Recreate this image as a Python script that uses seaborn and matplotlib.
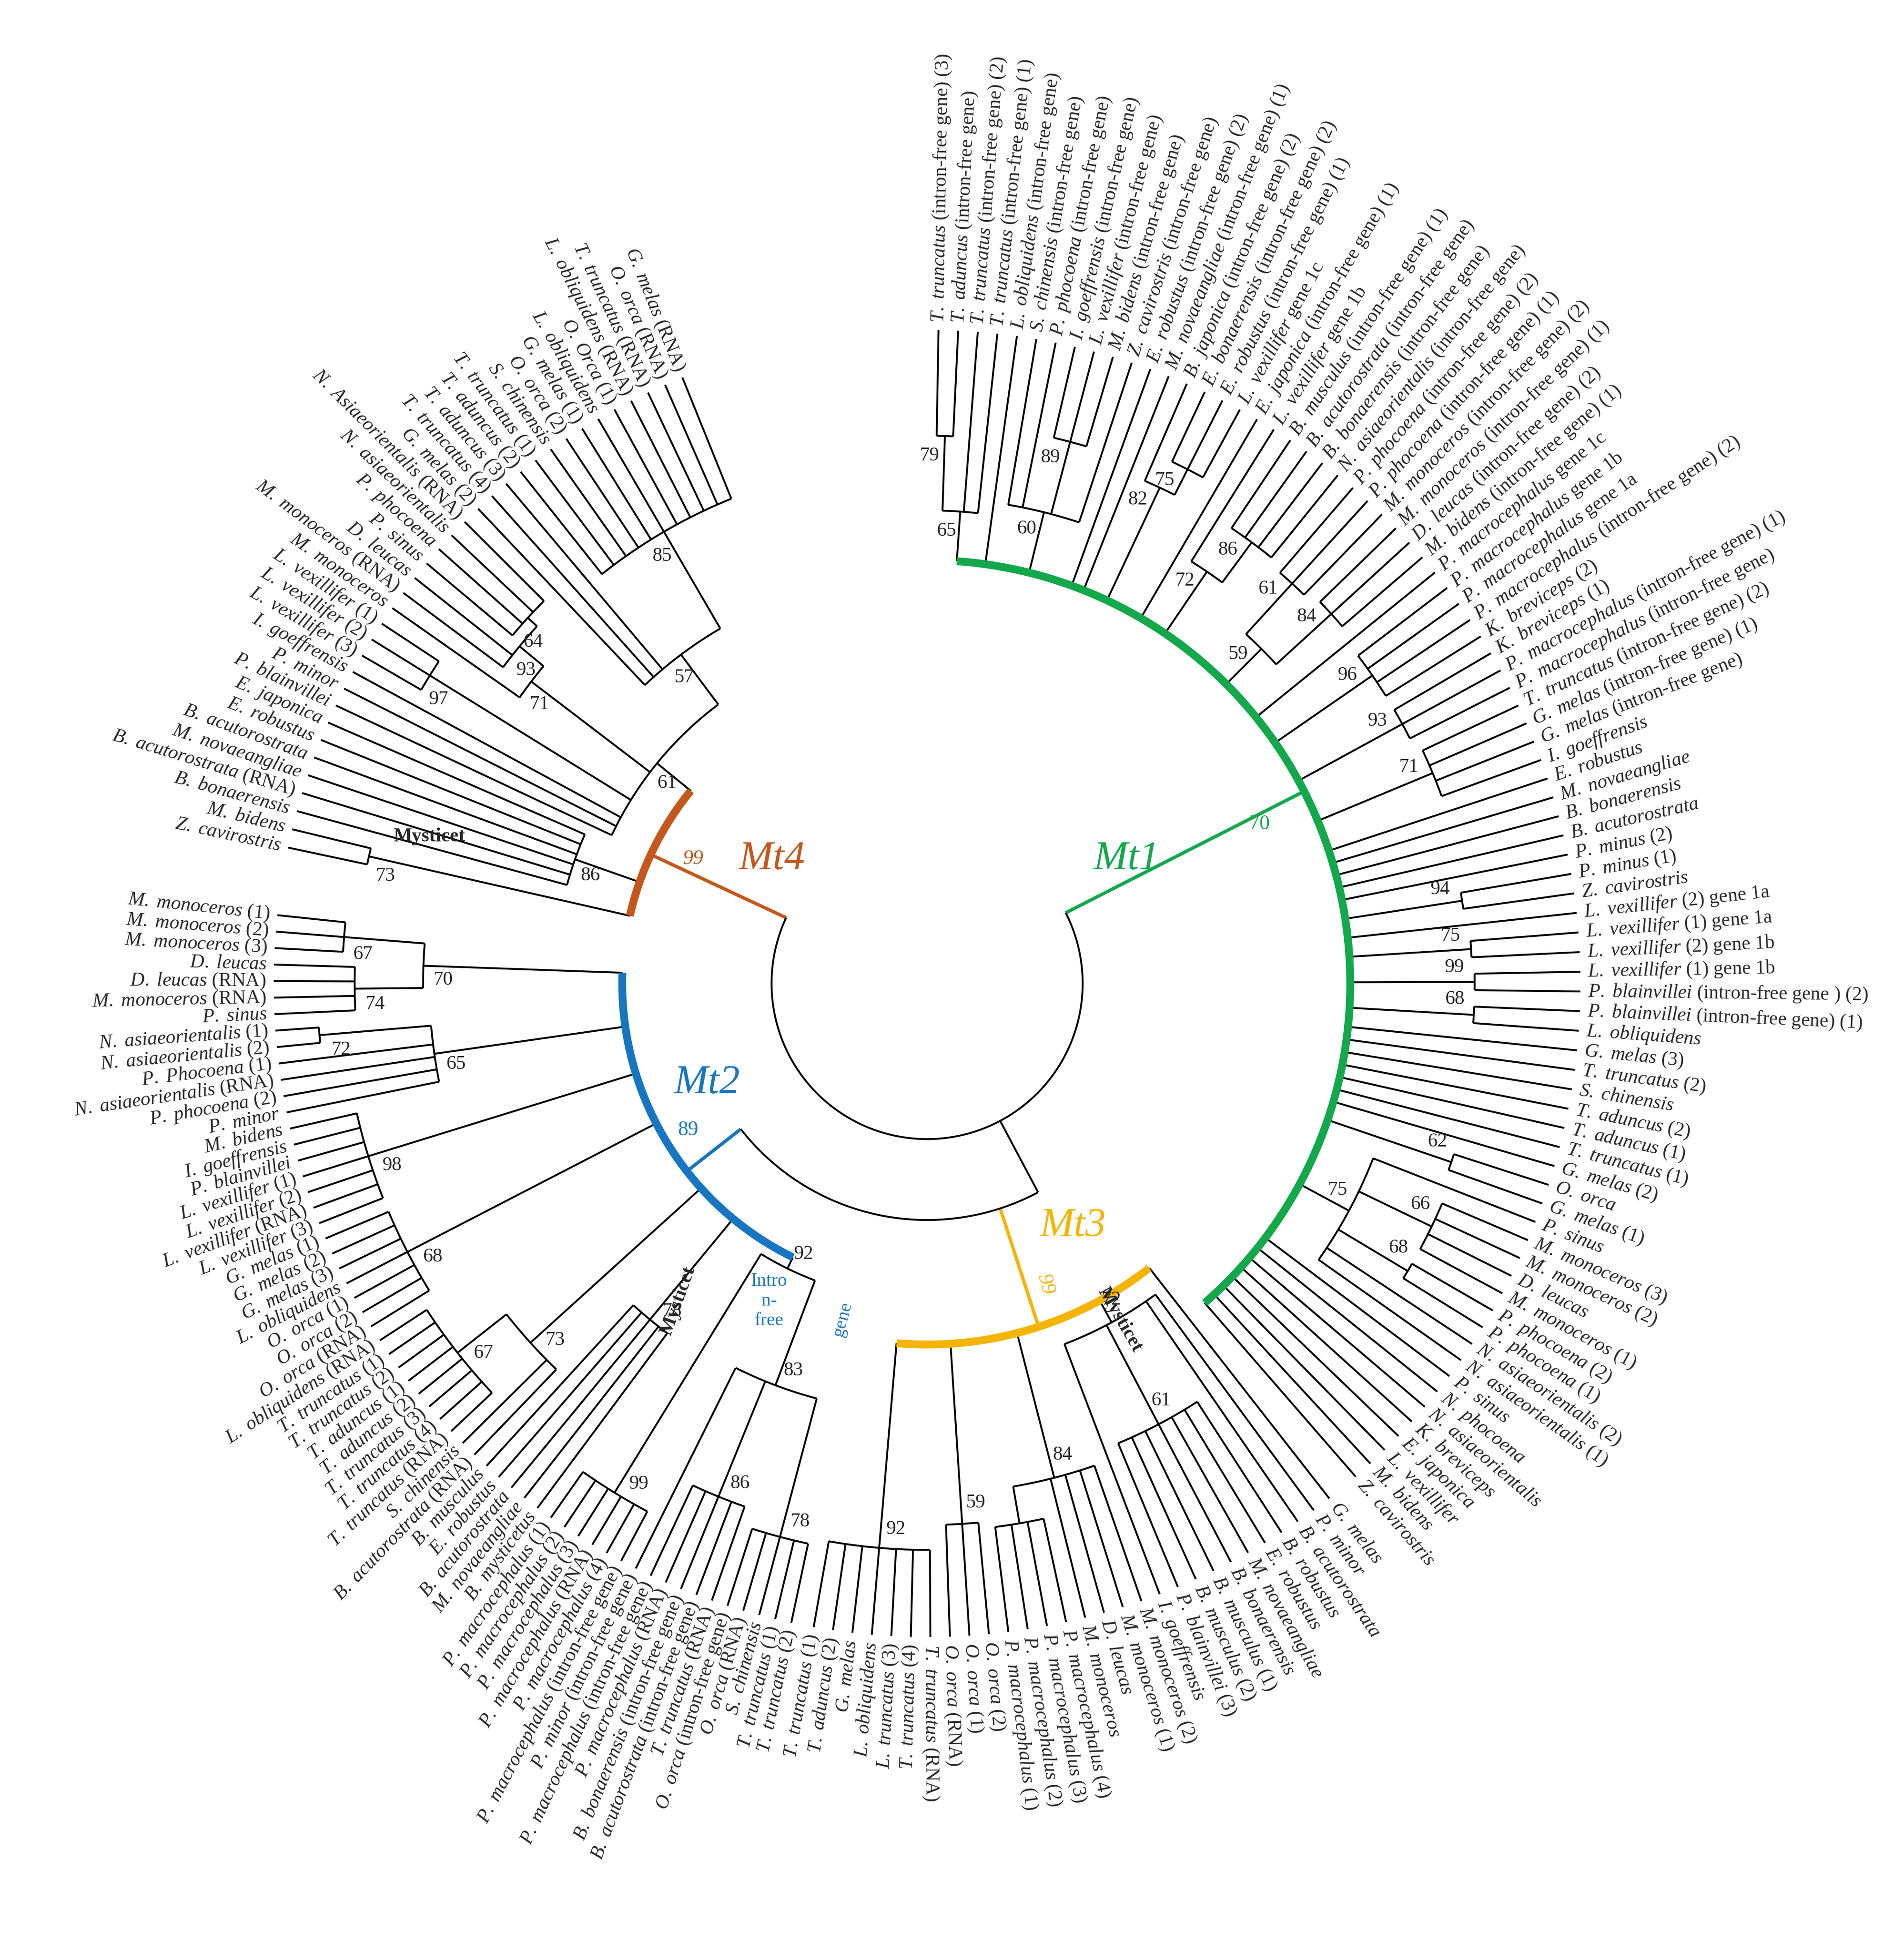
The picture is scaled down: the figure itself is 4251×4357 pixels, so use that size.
import numpy as np
import matplotlib
matplotlib.use("Agg")
import matplotlib.pyplot as plt
import seaborn as sns

sns.set_theme(style="white")
plt.rcParams['font.family'] = ['Liberation Serif', 'DejaVu Serif']
plt.rcParams['mathtext.fontset'] = 'custom'
plt.rcParams['mathtext.it'] = 'Liberation Serif:italic'
plt.rcParams['mathtext.rm'] = 'Liberation Serif'
plt.rcParams['mathtext.bf'] = 'Liberation Serif:bold'

# ---------------- data ----------------
mt1_leaves = [
 "T. truncatus (intron-free gene) (3)", "T. aduncus (intron-free gene)", "T. truncatus (intron-free gene) (2)",
 "T. truncatus (intron-free gene) (1)", "L. obliquidens (intron-free gene)", "S. chinensis (intron-free gene)",
 "P. phocoena (intron-free gene)", "I. goeffrensis (intron-free gene)", "L. vexillifer (intron-free gene)",
 "M. bidens (intron-free gene)", "Z. cavirostris (intron-free gene)", "E. robustus (intron-free gene) (2)",
 "M. novaeangliae (intron-free gene) (1)", "B. japonica (intron-free gene) (2)", "E. bonaerensis (intron-free gene) (2)",
 "E. robustus (intron-free gene) (1)", "L. vexillifer gene 1c", "E. japonica (intron-free gene) (1)",
 "L. vexillifer gene 1b", "B. musculus (intron-free gene) (1)", "B. acutorostrata (intron-free gene)",
 "B. bonaerensis (intron-free gene)", "N. asiaeorientalis (intron-free gene)", "P. phocoena (intron-free gene) (2)",
 "P. phocoena (intron-free gene) (1)", "M. monoceros (intron-free gene) (2)", "M. monoceros (intron-free gene) (1)",
 "D. leucas (intron-free gene) (2)", "M. bidens (intron-free gene) (1)", "P. macrocephalus gene 1c",
 "P. macrocephalus gene 1b", "P. macrocephalus gene 1a", "P. macrocephalus (intron-free gene) (2)",
 "K. breviceps (2)", "K. breviceps (1)", "P. macrocephalus (intron-free gene) (1)",
 "P. macrocephalus (intron-free gene)", "T. truncatus (intron-free gene) (2)", "G. melas (intron-free gene) (1)",
 "G. melas (intron-free gene)", "I. goeffrensis", "E. robustus", "M. novaeangliae", "B. bonaerensis",
 "B. acutorostrata", "P. minus (2)", "P. minus (1)", "Z. cavirostris", "L. vexillifer (2) gene 1a",
 "L. vexillifer (1) gene 1a", "L. vexillifer (2) gene 1b", "L. vexillifer (1) gene 1b",
 "P. blainvillei (intron-free gene ) (2)", "P. blainvillei (intron-free gene) (1)", "L. obliquidens",
 "G. melas (3)", "T. truncatus (2)", "S. chinensis", "T. aduncus (2)", "T. aduncus (1)", "T. truncatus (1)",
 "G. melas (2)", "O. orca", "G. melas (1)", "P. sinus", "M. monoceros (3)", "M. monoceros (2)", "D. leucas",
 "M. monoceros (1)", "P. phocoena (2)", "P. phocoena (1)", "N. asiaeorientalis (2)", "N. asiaeorientalis (1)",
 "P. sinus", "N. phocoena", "N. asiaeorientalis", "K. breviceps", "E. japonica", "L. vexillifer", "M. bidens",
 "Z. cavirostris"]
mt3_leaves = [
 "G. melas", "P. minor", "B. acutorostrata", "B. robustus", "E. robustus", "M. novaeangliae", "B. bonaerensis",
 "B. musculus (1)", "B. musculus (2)", "P. blainvillei (3)", "I. goeffrensis", "M. monoceros (2)",
 "M. monoceros (1)", "D. leucas", "M. monoceros", "P. macrocephalus (4)", "P. macrocephalus (3)",
 "P. macrocephalus (2)", "P. macrocephalus (1)", "O. orca (2)", "O. orca (1)", "O. orca (RNA)",
 "T. truncatus (RNA)", "T. truncatus (4)", "L. truncatus (3)", "L. obliquidens", "G. melas",
 "T. aduncus (2)", "T. truncatus (1)"]
mt2_leaves = [
 "T. truncatus (2)", "T. truncatus (1)", "S. chinensis", "O. orca (RNA)", "O. orca (intron-free gene)",
 "T. truncatus (RNA)", "B. acutorostrata (intron-free gene)", "B. bonaerensis (intron-free gene)",
 "P. macrocephalus (RNA)", "P. macrocephalus (intron-free gene)", "P. minor (intron-free gene)",
 "P. macrocephalus (intron-free gene)", "P. macrocephalus (4)", "P. macrocephalus (RNA)",
 "P. macrocephalus (3)", "P. macrocephalus (2)", "P. macrocephalus (1)", "B. mysticetus", "M. novaeangliae",
 "B. acutorostrata", "E. robustus", "B. musculus", "B. acutorostrata (RNA)", "S. chinensis",
 "T. truncatus (RNA)", "T. truncatus (4)", "T. truncatus (3)", "T. aduncus (2)", "T. aduncus (1)",
 "T. truncatus (2)", "T. truncatus (1)", "L. obliquidens (RNA)", "O. orca (RNA)", "O. orca (2)", "O. orca (1)",
 "L. obliquidens", "G. melas (3)", "G. melas (2)", "G. melas (1)", "L. vexillifer (3)", "L. vexillifer (RNA)",
 "L. vexillifer (2)", "L. vexillifer (1)", "P. blainvillei", "I. goeffrensis", "M. bidens", "P. minor",
 "P. phocoena (2)", "N. asiaeorientalis (RNA)", "P. Phocoena (1)", "N. asiaeorientalis (2)",
 "N. asiaeorientalis (1)", "P. sinus", "M. monoceros (RNA)", "D. leucas (RNA)", "D. leucas",
 "M. monoceros (3)", "M. monoceros (2)", "M. monoceros (1)"]
mt4_leaves = [
 "Z. cavirostris", "M. bidens", "B. bonaerensis", "B. acutorostrata (RNA)", "M. novaeangliae",
 "B. acutorostrata", "E. robustus", "E. japonica", "P. blainvillei", "P. minor", "I. goeffrensis",
 "L. vexillifer (3)", "L. vexillifer (2)", "L. vexillifer (1)", "M. monoceros", "M. monoceros (RNA)",
 "D. leucas", "P. sinus", "P. phocoena", "N. asiaeorientalis", "N. Asiaeorientalis (RNA)", "G. melas (2)",
 "T. truncatus (4)", "T. aduncus (3)", "T. aduncus (2)", "T. truncatus (1)", "S. chinensis", "O. orca (2)",
 "G. melas (1)", "L. obliquidens", "O. Orca (1)", "L. obliquidens (RNA)", "T. truncatus (RNA)",
 "O. orca (RNA)", "G. melas (RNA)"]

# subclades: (first leaf, last leaf, node depth, bootstrap)
mt1_groups = [(0,3,380,"65"),(0,1,440,"79"),(5,10,390,"60"),(7,9,450,"89"),(13,16,440,"82"),
              (14,16,463,"75"),(18,22,400,"72"),(19,22,440,"86"),(23,28,380,"59"),(23,25,435,"61"),
              (26,28,440,"84"),(30,33,435,"96"),(34,36,435,"93"),(37,40,440,"71"),(46,47,435,"94"),
              (49,50,438,"75"),(51,52,440,"99"),(53,54,440,"68"),(62,63,445,"62"),(64,72,385,"75"),
              (65,68,450,"66"),(69,70,450,"68")]
mt3_groups = [(1,10,310,"72"),(3,9,400,"61"),(11,18,410,"84"),(15,18,440,""),(19,21,435,"59"),
              (22,28,455,"92")]
mt2_groups = [(0,16,255,"92"),(0,10,345,"83"),(0,4,460,"78"),(5,9,445,"86"),(11,16,480,"99"),
              (17,21,350,"78"),(22,31,430,"73"),(24,31,480,"67"),(32,38,470,"68"),(39,45,470,"98"),
              (46,51,400,"65"),(50,51,490,"72"),(52,58,405,"70"),(52,55,460,"74"),(56,58,470,"67")]
mt4_groups = [(0,1,460,"73"),(2,7,300,"86"),(8,34,280,"61"),(21,34,330,"57"),(24,34,420,"85"),
              (14,20,400,"71"),(11,13,470,"97"),(15,20,425,"93"),(17,20,435,"64")]

clade_names = ["Mt1", "Mt3", "Mt2", "Mt4"]
clade_support = ["70", "99", "89", "99"]

# ---------------- layout ----------------
CX, CY = 745, 790
TIP = 525
colors = {"Mt1": "#12A84B", "Mt2": "#1776C2", "Mt3": "#F5B400", "Mt4": "#C4581C"}
layout = {  # angle range (deg), clade arc radius, stem angle, stem start radius
    "Mt1": (89, -49, 340, 27, 125),
    "Mt3": (-52, -100, 290, -72, 190),
    "Mt2": (-102, -186, 245, -142, 190),
    "Mt4": (-192, -248, 245, -205, 125),
}
leaf_sets = {"Mt1": mt1_leaves, "Mt3": mt3_leaves, "Mt2": mt2_leaves, "Mt4": mt4_leaves}
group_sets = {"Mt1": mt1_groups, "Mt3": mt3_groups, "Mt2": mt2_groups, "Mt4": mt4_groups}

fig = plt.figure(figsize=(4251/300, 4357/300), dpi=300)
ax = fig.add_axes([0, 0, 1, 1])
ax.set_xlim(0, 1530); ax.set_ylim(1568, 0); ax.axis("off")

LW = 1.0

def fmt(lab):
    parts = lab.split(" ")
    sp = parts[0] + r"\ " + parts[1]
    rest = " ".join(parts[2:])
    return r"$\mathit{" + sp + "}$" + (" " + rest if rest else "")

def P(r, a):
    t = np.deg2rad(a)
    return CX + r*np.cos(t), CY - r*np.sin(t)

def arc(r, a0, a1, **kw):
    t = np.linspace(a0, a1, 200)
    x, y = P(r, t)
    ax.plot(x, y, solid_capstyle="butt", **kw)

def radial(a, r0, r1, **kw):
    x0, y0 = P(r0, a); x1, y1 = P(r1, a)
    ax.plot([x0, x1], [y0, y1], solid_capstyle="butt", **kw)

def draw_clade(name):
    a0, a1, cr, sa, sr = layout[name]
    leaves = leaf_sets[name]; groups = group_sets[name]
    n = len(leaves)
    ang = np.linspace(a0, a1, n)
    for a, lab in zip(ang, leaves):
        an = ((a + 180) % 360) - 180
        x, y = P(TIP + 6, a)
        if -90 <= an <= 90:
            ax.text(x, y, fmt(lab), rotation=an, ha="left", va="center", rotation_mode="anchor", fontsize=10.5)
        else:
            ax.text(x, y, fmt(lab), rotation=an+180, ha="right", va="center", rotation_mode="anchor", fontsize=10.5)
    gs = sorted(range(len(groups)), key=lambda i: groups[i][1]-groups[i][0])
    def parent(i):
        s, e = groups[i][0], groups[i][1]
        best = None
        for j in gs:
            if j == i: continue
            s2, e2 = groups[j][0], groups[j][1]
            if s2 <= s and e <= e2 and (e2-s2) > (e-s):
                if best is None or (e2-s2) < (groups[best][1]-groups[best][0]):
                    best = j
        return best
    par = {i: parent(i) for i in gs}
    nodes = [None] + gs
    covered = {k: set() for k in nodes}
    for i in gs:
        covered[par[i]].update(range(groups[i][0], groups[i][1]+1))
    node_ang, node_r = {}, {}
    for i in gs:
        s, e, r, _ = groups[i]
        ch = [ang[k] for k in range(s, e+1) if k not in covered[i]]
        ch += [node_ang[j] for j in gs if par[j] == i]
        node_ang[i] = np.mean([min(ch), max(ch)]); node_r[i] = r
    for k in nodes:
        if k is None:
            rr = cr; lst = [l for l in range(n) if l not in covered[None]]
            subs = [j for j in gs if par[j] is None]
        else:
            rr = groups[k][2]; s, e = groups[k][0], groups[k][1]
            lst = [l for l in range(s, e+1) if l not in covered[k]]
            subs = [j for j in gs if par[j] == k]
        chang = [ang[l] for l in lst] + [node_ang[j] for j in subs]
        for l in lst:
            radial(ang[l], rr, TIP, color="black", lw=LW)
        for j in subs:
            radial(node_ang[j], rr, node_r[j], color="black", lw=LW)
        if k is not None:
            arc(rr, min(chang), max(chang), color="black", lw=LW)
        else:
            lo = min(min(chang), sa); hi = max(max(chang), sa)
            arc(rr, lo, hi, color=colors[name], lw=4.2)
    for i in gs:
        bs = groups[i][3]
        if bs:
            x, y = P(node_r[i] - 16, node_ang[i] + 1.6)
            ax.text(x, y, bs, fontsize=10.5, ha="center", va="center")
    radial(sa, sr, cr, color=colors[name], lw=1.8)

for nm in clade_names:
    draw_clade(nm)

# backbone
arc(125, -205, 27, color="black", lw=LW)
radial(-62, 125, 190, color="black", lw=LW)
arc(190, -142, -62, color="black", lw=LW)

ax.text(905, 690, "Mt1", color=colors["Mt1"], fontsize=22, style="italic", ha="center", va="center")
ax.text(620, 690, "Mt4", color=colors["Mt4"], fontsize=22, style="italic", ha="center", va="center")
ax.text(568, 870, "Mt2", color=colors["Mt2"], fontsize=22, style="italic", ha="center", va="center")
ax.text(862, 985, "Mt3", color=colors["Mt3"], fontsize=22, style="italic", ha="center", va="center")
for nm, s, (x, y), rot in zip(clade_names, clade_support,
                              [(1012, 662), (840, 1032), (553, 908), (557, 690)], [0, -75, 0, 0]):
    ax.text(x, y, s, color=colors[nm], fontsize=11, ha="center", va="center", rotation=rot,
            style="italic" if nm in ("Mt4", "Mt3") else "normal")
ax.text(618, 1045, "Intro\nn-\nfree", color=colors["Mt2"], fontsize=10, ha="center", va="center")
ax.text(677, 1060, "gene", color=colors["Mt2"], fontsize=10, ha="center", va="center", rotation=75)
ax.text(345, 672, "Mysticet", fontsize=10.5, weight="bold", ha="center", va="center")
ax.text(545, 1045, "Mysticet", fontsize=10.5, weight="bold", ha="center", va="center", rotation=70)
ax.text(900, 1060, "Mysticet", fontsize=10.5, weight="bold", ha="center", va="center", rotation=-60)

fig.savefig("out.png", dpi=300, facecolor="white")
